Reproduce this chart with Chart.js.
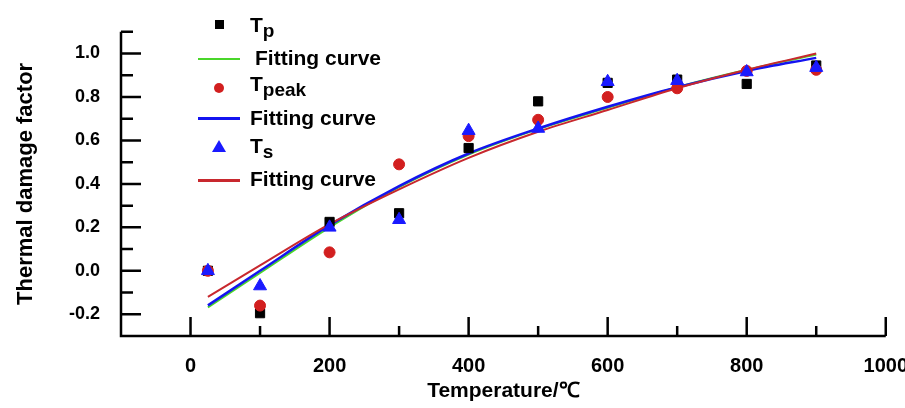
<!DOCTYPE html>
<html>
<head>
<meta charset="utf-8">
<script src="https://cdn.jsdelivr.net/npm/chart.js@4.4.1/dist/chart.umd.min.js"></script>
<style>
body { margin: 0; background: #fff; overflow: hidden; }
#wrap { position: relative; width: 905px; height: 408px; overflow: hidden; }
#c { position: absolute; left: 0; top: 0; }
.leg { position: absolute; font: bold 21px "Liberation Sans", Arial, sans-serif; line-height: 21px; color: #000; white-space: nowrap; }
.leg span { position: relative; top: 5px; font-size: 19px; }
.mk { position: absolute; }
</style>
</head>
<body>
<div id="wrap">
<canvas id="c" width="926" height="408"></canvas>

<div class="mk" style="left:215px;top:20px;width:9px;height:9px;background:#000"></div>
<div class="leg" style="left:250px;top:14px">T<span>p</span></div>

<div class="mk" style="left:198px;top:58px;width:42px;height:2px;background:#4ad62a"></div>
<div class="leg" style="left:255px;top:47px">Fitting curve</div>

<div class="mk" style="left:214px;top:83px;width:10px;height:10px;border-radius:50%;background:#d21f1f"></div>
<div class="leg" style="left:250px;top:73px">T<span>peak</span></div>

<div class="mk" style="left:198px;top:117px;width:42px;height:3px;background:#1414f0"></div>
<div class="leg" style="left:250px;top:107px">Fitting curve</div>

<svg class="mk" style="left:212px;top:140px" width="14" height="12"><polygon points="7,0 14,12 0,12" fill="#1a1aff"/></svg>
<div class="leg" style="left:250px;top:135px">T<span>s</span></div>

<div class="mk" style="left:198px;top:179px;width:42px;height:2.5px;background:#c8282e"></div>
<div class="leg" style="left:250px;top:168px">Fitting curve</div>
</div>

<script>
var temps = [25, 100, 200, 300, 400, 500, 600, 700, 800, 900];
var tp    = [0.00, -0.195, 0.225, 0.265, 0.565, 0.78, 0.865, 0.88, 0.86, 0.945];
var tpeak = [0.00, -0.16, 0.085, 0.49, 0.62, 0.695, 0.80, 0.84, 0.92, 0.925];
var ts    = [0.00, -0.07, 0.20, 0.235, 0.645, 0.655, 0.87, 0.875, 0.915, 0.935];

// fitting curves
var fitTp    = [-0.168, -0.01, 0.20, 0.385, 0.535, 0.652, 0.75, 0.845, 0.925, 0.995];
var fitTpeak = [-0.159, 0.00, 0.21, 0.39, 0.54, 0.655, 0.755, 0.845, 0.92, 0.98];
var fitTs    = [-0.12, 0.025, 0.215, 0.375, 0.52, 0.64, 0.74, 0.84, 0.925, 1.0];

var xLabels = [0, 200, 400, 600, 800, 1000];
var yLabels = [-0.2, 0.0, 0.2, 0.4, 0.6, 0.8, 1.0];

function pts(ys) {
    return temps.map(function (t, i) { return { x: t, y: ys[i] }; });
}
function isXLabel(v) { return xLabels.indexOf(v) >= 0; }
function isYLabel(v) {
    return yLabels.some(function (l) { return Math.round(l * 10) === Math.round(v * 10); });
}

var axisLines = {
    id: 'axisLines',
    afterDatasetsDraw: function (chart) {
        var ctx = chart.ctx, a = chart.chartArea;
        var x = chart.scales.x, y = chart.scales.y;
        ctx.save();
        ctx.strokeStyle = '#000';
        ctx.lineWidth = 2.5;
        ctx.beginPath();
        ctx.moveTo(a.left, a.top);
        ctx.lineTo(a.left, a.bottom);
        ctx.lineTo(a.right, a.bottom);
        x.ticks.forEach(function (t) {
            if (t.value <= x.min) return;
            var px = x.getPixelForValue(t.value);
            var len = isXLabel(t.value) ? 19 : 10;
            ctx.moveTo(px, a.bottom);
            ctx.lineTo(px, a.bottom - len);
        });
        y.ticks.forEach(function (t) {
            if (t.value <= y.min + 1e-9) return;
            var py = y.getPixelForValue(t.value);
            var len = isYLabel(t.value) ? 20 : 12;
            ctx.moveTo(a.left, py);
            ctx.lineTo(a.left + len, py);
        });
        ctx.stroke();
        ctx.restore();
    }
};

var font = '"Liberation Sans", Arial, sans-serif';

new Chart(document.getElementById('c'), {
    type: 'scatter',
    data: {
        datasets: [{
            label: 'Tp',
            data: pts(tp),
            pointStyle: 'rect',
            pointRadius: 6.5,
            backgroundColor: '#000',
            borderColor: '#000',
            order: 2
        }, {
            label: 'Fitting curve',
            data: pts(fitTp),
            showLine: true,
            pointRadius: 0,
            borderColor: '#4ad62a',
            borderWidth: 2,
            cubicInterpolationMode: 'monotone',
            order: 5
        }, {
            label: 'Tpeak',
            data: pts(tpeak),
            pointStyle: 'circle',
            pointRadius: 5.5,
            backgroundColor: '#d21f1f',
            borderColor: '#d21f1f',
            order: 1
        }, {
            label: 'Fitting curve',
            data: pts(fitTpeak),
            showLine: true,
            pointRadius: 0,
            borderColor: '#1414f0',
            borderWidth: 2.5,
            cubicInterpolationMode: 'monotone',
            order: 4
        }, {
            label: 'Ts',
            data: pts(ts),
            pointStyle: 'triangle',
            pointRadius: 7.5,
            backgroundColor: '#1a1aff',
            borderColor: '#1a1aff',
            order: 0
        }, {
            label: 'Fitting curve',
            data: pts(fitTs),
            showLine: true,
            pointRadius: 0,
            borderColor: '#c8282e',
            borderWidth: 2,
            cubicInterpolationMode: 'monotone',
            order: 3
        }]
    },
    options: {
        responsive: false,
        animation: false,
        devicePixelRatio: 1,
        layout: { padding: { left: 0, top: 28, right: 24, bottom: 0 } },
        plugins: { legend: { display: false }, tooltip: { enabled: false } },
        scales: {
            x: {
                type: 'linear',
                min: -100,
                max: 1000,
                grid: { display: false, drawTicks: false },
                border: { display: false },
                afterFit: function (s) { s.height = 72; },
                ticks: {
                    stepSize: 100,
                    autoSkip: false,
                    maxRotation: 0,
                    padding: 18,
                    color: '#000',
                    font: { family: font, size: 20, weight: 'bold' },
                    callback: function (v) { return isXLabel(v) ? String(v) : ''; }
                },
                title: {
                    display: true,
                    text: 'Temperature/℃',
                    color: '#000',
                    font: { family: font, size: 21, weight: 'bold' },
                    padding: { top: 0, bottom: 4 }
                }
            },
            y: {
                min: -0.3,
                max: 1.1,
                grid: { display: false, drawTicks: false },
                border: { display: false },
                afterFit: function (s) { s.width = 121; },
                ticks: {
                    stepSize: 0.1,
                    autoSkip: false,
                    padding: 21,
                    color: '#000',
                    font: { family: font, size: 18, weight: 'bold' },
                    callback: function (v) { return isYLabel(v) ? v.toFixed(1) : ''; }
                },
                title: {
                    display: true,
                    text: 'Thermal damage factor',
                    color: '#000',
                    font: { family: font, size: 22, weight: 'bold' },
                    padding: { top: 13, bottom: 0 }
                }
            }
        }
    },
    plugins: [axisLines]
});
</script>
</body>
</html>
